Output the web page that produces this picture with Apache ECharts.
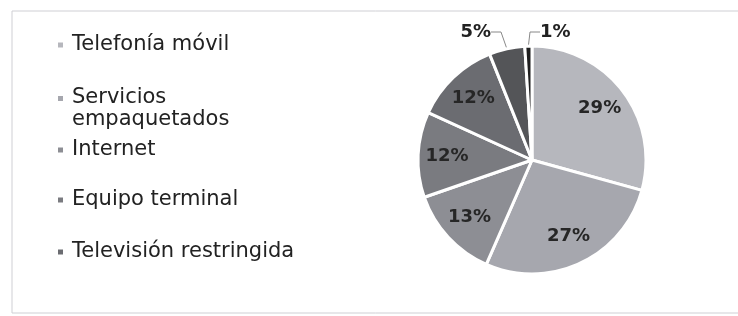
<!DOCTYPE html>
<html>
<head>
<meta charset="utf-8">
<script src="https://cdn.jsdelivr.net/npm/echarts@6/dist/echarts.min.js"></script>
<style>
html,body{margin:0;padding:0;background:#fff;}
#c{width:738px;height:316px;}
</style>
</head>
<body>
<div id="c"></div>
<script>
const categories = ["Telefonía móvil", "Servicios empaquetados", "Internet", "Equipo terminal", "Televisión restringida", "Telefonía fija", "Otros"];
const values = [29, 27, 13, 12, 12, 5, 1];
const colors = ["#b6b7bd", "#a6a7ae", "#8d8e94", "#7a7b80", "#6b6c71", "#545558", "#1f1f1f"];
const legendTops = [45, 98, 150, 200, 252];

const chart = echarts.init(document.getElementById('c'));
const FONT = '"DejaVu Sans", "Noto Sans", sans-serif';

const legends = categories.slice(0, 5).map((name, i) => {
  const two = name === "Servicios empaquetados";
  const lg = {
    orient: 'vertical',
    left: 56,
    top: legendTops[i] - 11,
    padding: 0,
    itemWidth: 7,
    itemHeight: 7,
    itemGap: 0,
    icon: 'rect',
    selectedMode: false,
    textStyle: { fontFamily: FONT, fontSize: 21, color: '#222', lineHeight: 22, padding: [0, 0, 0, 3] },
    data: [name]
  };
  if (two) {
    lg.formatter = () => 'Servicios\nempaquetados';
    lg.itemHeight = 28;
    lg.icon = 'path://M0,0H7V7H0Z M0,28H7V28.02H0Z';
  }
  return lg;
});

const outerLabel = { position: 'outside', color: '#222', fontSize: 18, fontFamily: FONT, fontWeight: 'bold' };

chart.setOption({
  animation: false,
  color: colors,
  graphic: [{
    type: 'rect',
    shape: { x: 12, y: 11, width: 740, height: 302 },
    style: { fill: 'none', stroke: '#cfcfd4', lineWidth: 1 },
    silent: true
  }],
  legend: legends,
  series: [{
    type: 'pie',
    center: [532, 160],
    radius: 114,
    startAngle: 90,
    clockwise: true,
    avoidLabelOverlap: false,
    itemStyle: { borderColor: '#fff', borderWidth: 3 },
    label: { show: false },
    labelLine: { show: false },
    labelLayout: function (p) {
      if (p.dataIndex === 6) {
        return { x: 540, y: 32, align: 'left', verticalAlign: 'middle' };
      }
      if (p.dataIndex === 5) {
        return { x: 491, y: 32, align: 'right', verticalAlign: 'middle' };
      }
    },
    data: categories.map((n, i) => {
      const d = { name: n, value: values[i] };
      if (i >= 5) {
        d.label = Object.assign({ show: true, formatter: '{c}%' }, outerLabel);
        d.labelLine = { show: true, length: 6, length2: 10, lineStyle: { color: '#888', width: 1 } };
      }
      return d;
    })
  }, {
    type: 'pie',
    center: [532, 160],
    radius: [50, 114],
    startAngle: 90,
    clockwise: true,
    silent: true,
    avoidLabelOverlap: false,
    itemStyle: { color: 'rgba(0,0,0,0)', borderWidth: 0 },
    label: {
      position: 'inside',
      formatter: '{c}%',
      fontFamily: FONT,
      fontWeight: 'bold',
      fontSize: 18,
      color: '#262626'
    },
    labelLine: { show: false },
    data: categories.map((n, i) => ({
      name: n,
      value: values[i],
      label: { show: i < 5 }
    }))
  }]
});
</script>
</body>
</html>
